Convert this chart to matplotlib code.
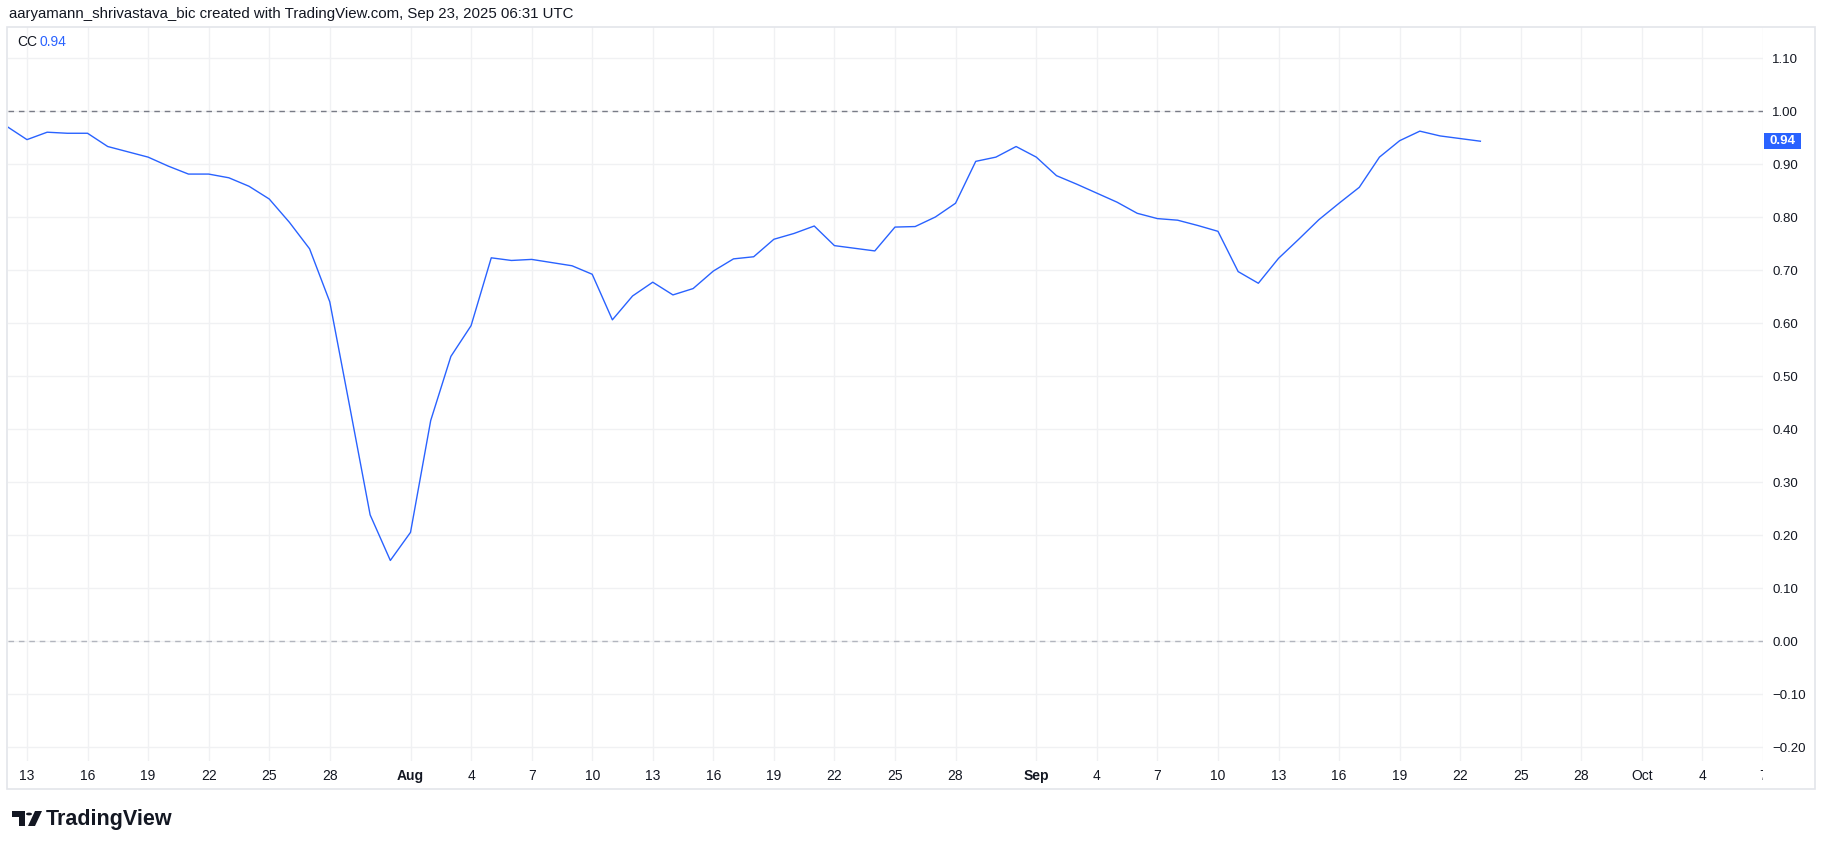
import numpy as np
import pandas as pd
import matplotlib
matplotlib.use("Agg")
import matplotlib.pyplot as plt
import matplotlib.dates as mdates
from matplotlib.patches import Rectangle, Polygon, Circle
from matplotlib.transforms import blended_transform_factory, Bbox, TransformedBbox

plt.rcParams['font.family'] = ['Liberation Sans', 'DejaVu Sans']

# ---- data: daily correlation coefficient (CC), starting Jul 12 2025 ----
start_date = "2025-07-12"
cc_values = [
    0.971, 0.946, 0.960, 0.958, 0.958, 0.933, 0.923, 0.913, 0.896, 0.881,   # Jul 12-21
    0.881, 0.874, 0.858, 0.834, 0.790, 0.740, 0.640, 0.440, 0.238, 0.152,   # Jul 22-31
    0.205, 0.416, 0.537, 0.595, 0.723, 0.718, 0.720, 0.714, 0.708, 0.692,   # Aug 1-10
    0.606, 0.651, 0.677, 0.653, 0.665, 0.698, 0.721, 0.725, 0.758, 0.769,   # Aug 11-20
    0.783, 0.746, 0.741, 0.736, 0.781, 0.782, 0.800, 0.826, 0.905, 0.913,   # Aug 21-30
    0.933, 0.913, 0.878, 0.862, 0.845, 0.828, 0.807, 0.797, 0.794, 0.784,   # Aug 31-Sep 9
    0.773, 0.697, 0.675, 0.722, 0.758, 0.795, 0.826, 0.856, 0.913, 0.944,   # Sep 10-19
    0.962, 0.953, 0.948, 0.943,                                             # Sep 20-23
]
dates = pd.date_range(start_date, periods=len(cc_values), freq="D")

tick_dates = ["2025-07-13", "2025-07-16", "2025-07-19", "2025-07-22", "2025-07-25", "2025-07-28",
              "2025-08-01", "2025-08-04", "2025-08-07", "2025-08-10", "2025-08-13", "2025-08-16",
              "2025-08-19", "2025-08-22", "2025-08-25", "2025-08-28",
              "2025-09-01", "2025-09-04", "2025-09-07", "2025-09-10", "2025-09-13", "2025-09-16",
              "2025-09-19", "2025-09-22", "2025-09-25", "2025-09-28",
              "2025-10-01", "2025-10-04", "2025-10-07"]
tick_labels = ["13", "16", "19", "22", "25", "28", "Aug", "4", "7", "10", "13", "16", "19", "22",
               "25", "28", "Sep", "4", "7", "10", "13", "16", "19", "22", "25", "28", "Oct", "4", "7"]
bold_labels = ["Aug", "Sep"]

y_ticks = [1.10, 1.00, 0.90, 0.80, 0.70, 0.60, 0.50, 0.40, 0.30, 0.20, 0.10, 0.00, -0.10, -0.20]
ref_levels = [1.0, 0.0]
ref_colors = ['#787b86', '#b2b5be']

title = "aaryamann_shrivastava_bic created with TradingView.com, Sep 23, 2025 06:31 UTC"

# ---- colours ----
line_blue = '#2962ff'
text_dark = '#131722'
grid_col = '#f0f1f3'
frame_col = '#e3e5ea'

W, H = 1825, 849
fig = plt.figure(figsize=(W / 100, H / 100), dpi=100)
fig.patch.set_facecolor('white')

def fx(px):
    return px / W

def fy(py):
    return 1 - py / H

# plot pane: x 8..1763, y 27..761 (pixels from top)
ax = fig.add_axes([fx(8), fy(761), fx(1763 - 8), (761 - 27) / H])
ax.set_facecolor('white')

x0 = mdates.date2num(pd.Timestamp("2025-07-13"))
ax.set_xlim(x0 - 0.94, x0 + 86.0)
ax.set_ylim(-0.2264, 1.1585)

for s in ax.spines.values():
    s.set_visible(False)

# grid
ax.set_xticks([mdates.date2num(pd.Timestamp(d)) for d in tick_dates])
ax.set_yticks(y_ticks)
ax.grid(True, color=grid_col, lw=1.0)
ax.set_axisbelow(True)
ax.tick_params(axis='both', length=0)

# dashed reference lines
for lvl, c in zip(ref_levels, ref_colors):
    ax.axhline(lvl, color=c, lw=1.0, ls=(0, (4, 3.5)), zorder=2)

# series
ax.plot(dates, cc_values, color=line_blue, lw=1.0, zorder=3)

# y labels on the right
ax.yaxis.tick_right()
ax.set_yticklabels([f"{v:.2f}".replace('-', '\u2212') for v in y_ticks],
                   fontsize=9.5, color=text_dark)
ax.tick_params(axis='y', pad=6.5)

# x labels
ax.set_xticklabels(tick_labels, fontsize=10, color=text_dark)
ax.tick_params(axis='x', pad=6)
clip = TransformedBbox(Bbox.from_extents(0, 0, fx(1763), 1), fig.transFigure)
for lbl in ax.get_xticklabels():
    if lbl.get_text() in bold_labels:
        lbl.set_fontweight('bold')
    lbl.set_clip_box(clip)
    lbl.set_clip_on(True)

# last value label on price scale
last = cc_values[-1]
tr = blended_transform_factory(ax.transAxes, ax.transData)
ax.add_patch(Rectangle((1.0005, last - 0.0151), 37 / 1755, 0.0302, transform=tr,
                       facecolor=line_blue, edgecolor='none', clip_on=False, zorder=5))
ax.text(1.0005 + 18.5 / 1755, last, f"{last:.2f}", transform=tr, ha='center', va='center',
        color='white', fontsize=9.5, fontweight='bold', zorder=6, clip_on=False)

# outer frame
fig.add_artist(Rectangle((fx(7), fy(789)), fx(1815 - 7), (789 - 27) / H, transform=fig.transFigure,
                         fill=False, edgecolor=frame_col, lw=1.2))

# header and legend
fig.text(fx(9), fy(14), title, fontsize=10.8, color=text_dark, ha='left', va='center')
fig.text(fx(17), fy(42), "CC", fontsize=10, color=text_dark, ha='left', va='center')
fig.text(fx(40), fy(42), f"{last:.2f}", fontsize=10, color=line_blue, ha='left', va='center')

# TradingView logo
logo = [
    Polygon([(fx(12), fy(811)), (fx(25), fy(811)), (fx(25), fy(826)), (fx(19), fy(826)),
             (fx(19), fy(817)), (fx(12), fy(817))], closed=True),
    Circle((fx(29), fy(814)), 3.0 / W),
    Polygon([(fx(35), fy(811)), (fx(42), fy(811)), (fx(35), fy(826)), (fx(28), fy(826))], closed=True),
]
for p in logo:
    p.set_transform(fig.transFigure)
    p.set_facecolor(text_dark)
    p.set_edgecolor('none')
    fig.add_artist(p)
fig.text(fx(46), fy(819), "TradingView", fontsize=15.5, fontweight='bold', color=text_dark,
         ha='left', va='center')

fig.savefig("out.png", dpi=100, facecolor='white')
